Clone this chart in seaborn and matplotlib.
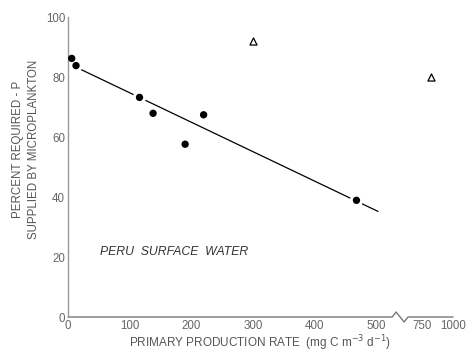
import numpy as np
import pandas as pd
import matplotlib
matplotlib.use("Agg")
import matplotlib.pyplot as plt
import seaborn as sns

# data
rate = [6, 13, 116, 138, 190, 220, 468]
percent = [86.2, 83.8, 73.2, 67.9, 57.6, 67.4, 38.9]
tri_rate = [300, 820]
tri_percent = [92, 80]
fit_rate = [20, 503]
fit_percent = [82.6, 35.2]
xticks = [0, 100, 200, 300, 400, 500, 750, 1000]
yticks = [0, 20, 40, 60, 80, 100]

pts = pd.DataFrame({"rate": rate, "percent": percent})
tri = pd.DataFrame({"rate": tri_rate, "percent": tri_percent})
fit = pd.DataFrame({"rate": fit_rate, "percent": fit_percent})

sns.set_style("white")
plt.rcParams["font.family"] = ["Liberation Sans", "DejaVu Sans"]

# broken axis: linear up to 531, compressed beyond
B, K = 531.0, 0.2
def fwd(x):
    x = np.asarray(x, dtype=float)
    return np.where(x <= B, x, B + (x - B) * K)
def inv(y):
    y = np.asarray(y, dtype=float)
    return np.where(y <= B, y, B + (y - B) / K)

fig = plt.figure(figsize=(4.71, 3.52), dpi=100)
ax = fig.add_axes([0.1444, 0.0994, 0.8176, 0.8523])
ax.set_xscale("function", functions=(fwd, inv))

sns.lineplot(data=fit, x="rate", y="percent", color="black", lw=0.9, ax=ax, zorder=1)
sns.scatterplot(data=pts, x="rate", y="percent", s=90, color="white",
                edgecolor="none", ax=ax, zorder=2)
sns.scatterplot(data=pts, x="rate", y="percent", s=28, color="black",
                edgecolor="none", ax=ax, zorder=3)
sns.scatterplot(data=tri, x="rate", y="percent", marker="^", s=26,
                facecolor="white", edgecolor="black", linewidth=0.9, ax=ax, zorder=3)

ax.set_xlim(0, 1000)
ax.set_ylim(0, 100)
ax.set_xticks(xticks)
ax.set_xticklabels([str(t) for t in xticks])
ax.set_yticks(yticks)
ax.set_yticklabels([str(t) for t in yticks])
ax.tick_params(direction="in", length=3, width=0.8, color="#888888",
               labelsize=8.3, labelcolor="#666666", pad=2)

for s in ["top", "right"]:
    ax.spines[s].set_visible(False)
ax.spines["left"].set_color("#999999")
ax.spines["left"].set_linewidth(1.0)
ax.spines["bottom"].set_visible(False)

# bottom axis line with break zigzag
bx = [0, 0.842, 0.852, 0.873, 0.883, 1.0]
by = [0, 0, 0.0167, -0.0167, 0, 0]
ax.plot(bx, by, color="#777777", lw=1.0, transform=ax.transAxes, clip_on=False)

ax.set_xlabel("PRIMARY PRODUCTION RATE  (mg C m$^{-3}$ d$^{-1}$)",
              fontsize=8.5, color="#555555", labelpad=1)
ax.set_ylabel("PERCENT REQUIRED - P\nSUPPLIED BY MICROPLANKTON",
              fontsize=8.3, color="#555555", linespacing=1.5)
ax.yaxis.set_label_coords(-0.072, 0.56)

ax.text(52, 21.7, "PERU  SURFACE  WATER", fontsize=8.8, style="italic",
        color="#333333", va="center", ha="left")

fig.savefig("out.png", dpi=100)
